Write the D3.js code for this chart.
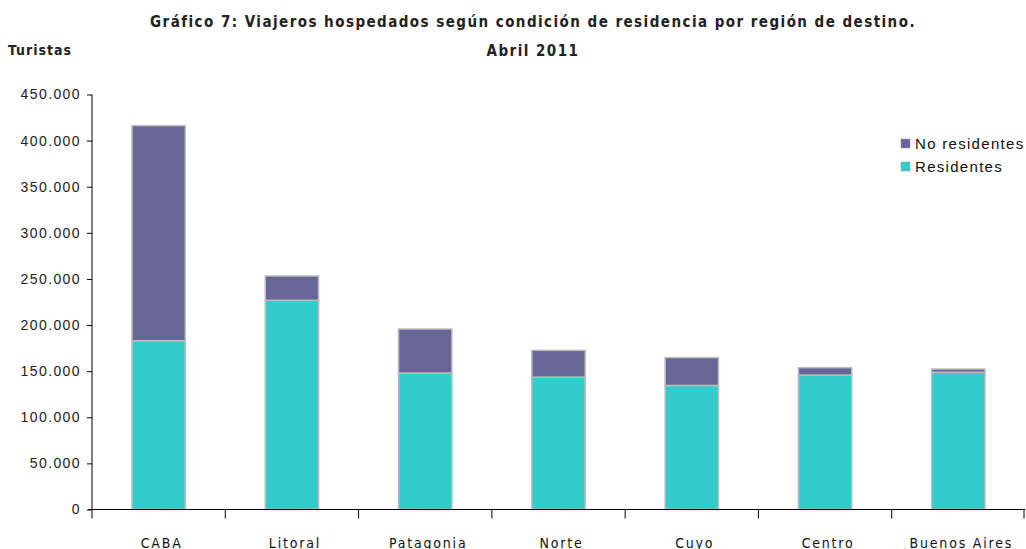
<!DOCTYPE html>
<html><head><meta charset="utf-8">
<script src="https://cdn.jsdelivr.net/npm/d3@7"></script>
<style>body{margin:0;background:#fff}svg{display:block}</style>
</head><body>
<svg id="c" width="1026" height="549"></svg>
<script>
const categories = ["CABA","Litoral","Patagonia","Norte","Cuyo","Centro","Buenos Aires"];
const residentes = [183000, 226800, 148000, 143500, 134500, 145800, 148800];
const noResidentes = [233200, 26400, 47700, 29100, 30200, 8000, 3500];
const seriesNames = ["Residentes","No residentes"];
const yTicks = [0,50000,100000,150000,200000,250000,300000,350000,400000,450000];

const svg = d3.select("#c");
const colors = {"Residentes":"#33CCCC","No residentes":"#666699"};
const x = d3.scaleBand().domain(categories).range([92,1025]).paddingInner(0.6).paddingOuter(0.3);
const xb = d3.scaleBand().domain(categories).range([92,1025]);
const y = d3.scaleLinear().domain([0,450000]).range([509.5,94.5]);
const fmt = d => d3.format(",")(d).replace(/,/g,".");

const data = categories.map((c,i)=>({cat:c,"Residentes":residentes[i],"No residentes":noResidentes[i]}));
const stack = d3.stack().keys(seriesNames)(data);

svg.append("g").selectAll("g").data(stack).join("g")
  .attr("fill", s=>colors[s.key])
  .selectAll("rect").data(s=>s).join("rect")
  .attr("x", d=>x(d.data.cat)).attr("width", x.bandwidth())
  .attr("y", d=>y(d[1])).attr("height", d=>y(d[0])-y(d[1]))
  .attr("stroke","#bbbbbb").attr("stroke-width",1.5);

// y axis
const ya = svg.append("g").attr("transform","translate(92,0)")
  .call(d3.axisLeft(y).tickValues(yTicks).tickFormat(fmt).tickSize(5).tickPadding(6));
ya.select(".domain").attr("stroke","#000").attr("d","M0,94.5V509.5");
ya.selectAll("line").attr("stroke","#000");
ya.selectAll("text").attr("font-family","Arial, 'Liberation Sans', sans-serif").attr("font-size",14).attr("letter-spacing","1.4px").attr("fill","#222");

// x axis
const xa = svg.append("g").attr("transform","translate(0,509.5)");
xa.append("line").attr("x1",88).attr("x2",1025).attr("stroke","#000");
xa.selectAll("line.t").data(categories.concat(["end"])).join("line").attr("class","t")
  .attr("x1",(d,i)=> i<categories.length ? xb(d) : xb.range()[1]-1)
  .attr("x2",(d,i)=> i<categories.length ? xb(d) : xb.range()[1]-1)
  .attr("y1",0).attr("y2",9).attr("stroke","#000");
xa.selectAll("text").data(categories).join("text")
  .attr("x", d=>xb(d)+xb.bandwidth()/2 + 3).attr("y",38)
  .attr("text-anchor","middle")
  .attr("font-family","'DejaVu Sans Condensed','DejaVu Sans',sans-serif").attr("font-size",14)
  .attr("letter-spacing","1.8px").attr("fill","#111").text(d=>d);

// titles
const tf = "'DejaVu Sans Condensed','DejaVu Sans',sans-serif";
svg.append("text").attr("x",533).attr("y",27).attr("text-anchor","middle")
  .attr("font-family",tf).attr("font-weight","bold").attr("font-size",15).attr("letter-spacing","1.45px").attr("fill","#222")
  .text("Gráfico 7: Viajeros hospedados según condición de residencia por región de destino.");
svg.append("text").attr("x",533).attr("y",56).attr("text-anchor","middle")
  .attr("font-family",tf).attr("font-weight","bold").attr("font-size",15).attr("letter-spacing","1.45px").attr("fill","#222")
  .text("Abril 2011");
svg.append("text").attr("x",8).attr("y",55)
  .attr("font-family",tf).attr("font-weight","bold").attr("font-size",14).attr("letter-spacing","1px").attr("fill","#222")
  .text("Turistas");

// legend
const legItems = ["No residentes","Residentes"];
const lg = svg.append("g").selectAll("g").data(legItems).join("g")
  .attr("transform",(d,i)=>`translate(901,${139+i*23})`);
lg.append("rect").attr("width",9).attr("height",9).attr("fill",d=>colors[d]).attr("stroke","#999").attr("stroke-width",0.5);
lg.append("text").attr("x",14).attr("y",10).attr("font-family","Arial, 'Liberation Sans', sans-serif").attr("font-size",15)
  .attr("letter-spacing","1.3px").attr("fill","#111").text(d=>d);
</script>
</body></html>
